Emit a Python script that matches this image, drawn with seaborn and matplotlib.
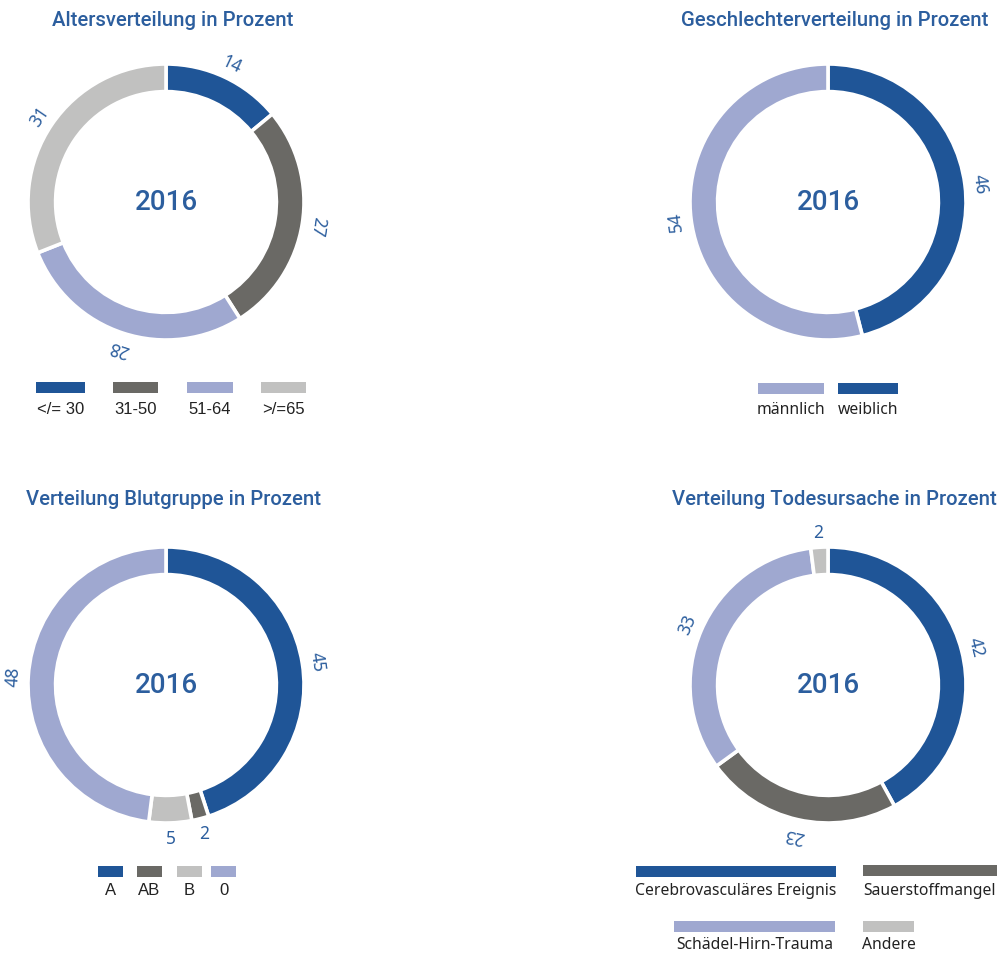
import matplotlib
matplotlib.use("Agg")
import matplotlib.pyplot as plt
import seaborn as sns
import numpy as np
from matplotlib.patches import Rectangle

# --- data ---
age_labels = ["</= 30", "31-50", "51-64", ">/=65"]
age_values = [14, 27, 28, 31]

gender_labels = ["weiblich", "männlich"]
gender_values = [46, 54]

blood_labels = ["A", "AB", "B", "0"]
blood_values = [45, 2, 5, 48]

death_labels = ["Cerebrovasculäres Ereignis", "Sauerstoffmangel",
                "Schädel-Hirn-Trauma", "Andere"]
death_values = [42, 23, 33, 2]

year = "2016"

# --- style ---
sns.set_theme(style="white")
plt.rcParams['font.family'] = ['Noto Sans', 'DejaVu Sans']

BLUE = "#1F5597"
DGRAY = "#6A6965"
LAV = "#9FA8D0"
LGRAY = "#C1C1C0"
TBLUE = "#2C5E9E"
TXT = "#222222"

W, H = 1001, 954
fig = plt.figure(figsize=(W / 100, H / 100), dpi=100)


def fx(px):
    return px / W


def fy(py):
    return 1 - py / H


def donut(cx, cy, values, colors, title, title_x, title_y):
    half = 180
    ax = fig.add_axes([fx(cx - half), fy(cy + half), 2 * half / W, 2 * half / H])
    lim = half / 138
    wedges, _ = ax.pie(values, colors=colors, startangle=90, counterclock=False,
                       radius=1.0,
                       wedgeprops=dict(width=0.2, edgecolor="white", linewidth=2.6))
    ax.set_xlim(-lim, lim)
    ax.set_ylim(-lim, lim)
    ax.set_aspect("auto")
    ax.axis("off")
    # value labels sit just outside the ring, turned along it
    for w, v in zip(wedges, values):
        mid = np.deg2rad((w.theta1 + w.theta2) / 2)
        rot = np.rad2deg(mid) - 90 if v > 5 else 0
        ax.text(1.11 * np.cos(mid), 1.11 * np.sin(mid), str(v), color=TBLUE,
                fontsize=12.5, ha="center", va="center", rotation=rot,
                rotation_mode="anchor")
    ax.text(0, 0, year, color=TBLUE, fontsize=20, ha="center", va="center",
            family=["Roboto", "DejaVu Sans"], fontweight="medium")
    fig.text(fx(title_x), fy(title_y), title, color=TBLUE, fontsize=14.6,
             fontweight="medium", ha="center", va="center",
             family=["Roboto", "DejaVu Sans"])


def legend(items, family, size):
    # items: (label, color, left_px, width_px, patch_top_px, text_y_px)
    for lab, col, x0, wd, y0, ty in items:
        fig.add_artist(Rectangle((fx(x0), fy(y0 + 10.5)), wd / W, 10.5 / H,
                                 transform=fig.transFigure, color=col, lw=0))
        fig.text(fx(x0 + wd / 2), fy(ty), lab, color=TXT, fontsize=size,
                 ha="center", va="center", family=family)


age_colors = [BLUE, DGRAY, LAV, LGRAY]
gender_colors = [BLUE, LAV]
blood_colors = [BLUE, DGRAY, LGRAY, LAV]
death_colors = [BLUE, DGRAY, LAV, LGRAY]

donut(166, 203, age_values, age_colors, "Altersverteilung in Prozent", 173, 20)
donut(828, 203, gender_values, gender_colors, "Geschlechterverteilung in Prozent", 835, 20)
donut(166, 686, blood_values, blood_colors, "Verteilung Blutgruppe in Prozent", 173, 500)
donut(828, 686, death_values, death_colors, "Verteilung Todesursache in Prozent", 834, 500)

legend([(age_labels[0], age_colors[0], 36, 49, 383, 410),
        (age_labels[1], age_colors[1], 113, 45, 383, 410),
        (age_labels[2], age_colors[2], 187, 46, 383, 410),
        (age_labels[3], age_colors[3], 261, 45, 383, 410)], "Liberation Sans", 12)

legend([(gender_labels[1], gender_colors[1], 758, 66, 384, 410),
        (gender_labels[0], gender_colors[0], 838, 60, 384, 410)], "Noto Sans", 11.3)

legend([(blood_labels[0], blood_colors[0], 98, 25, 867, 891),
        (blood_labels[1], blood_colors[1], 137, 25, 867, 891),
        (blood_labels[2], blood_colors[2], 177, 25, 867, 891),
        (blood_labels[3], blood_colors[3], 211, 25, 867, 891)], "Liberation Sans", 12)

legend([(death_labels[0], death_colors[0], 636, 200, 867, 891),
        (death_labels[1], death_colors[1], 863, 134, 866, 891),
        (death_labels[2], death_colors[2], 674, 161, 922, 945),
        (death_labels[3], death_colors[3], 863, 51, 922, 945)], "Noto Sans", 11.3)

fig.savefig("out.png", dpi=100, facecolor="white")
